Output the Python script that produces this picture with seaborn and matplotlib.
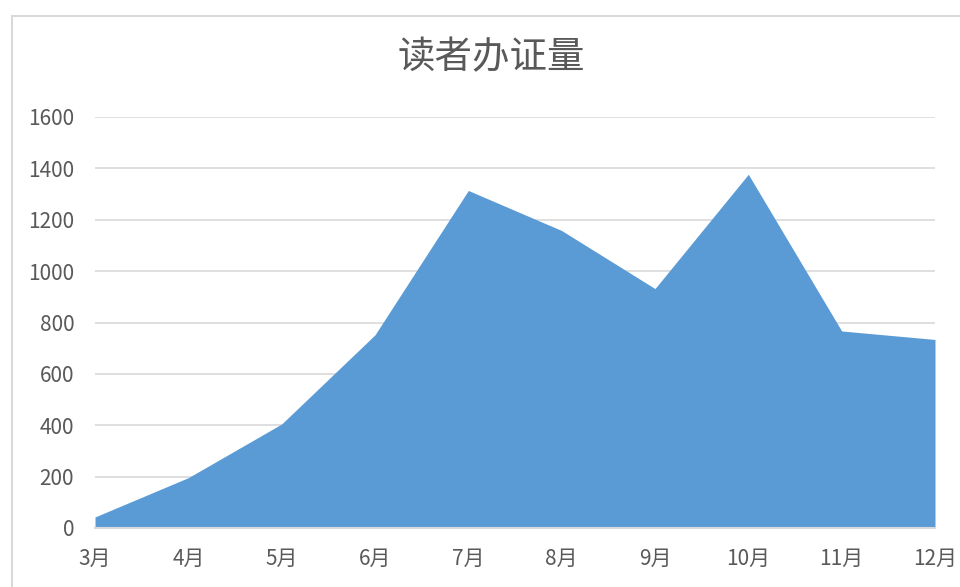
import matplotlib
matplotlib.use('Agg')
import matplotlib.pyplot as plt
import seaborn as sns
import pandas as pd
from matplotlib.patches import Rectangle

# 数据
months = ['3月', '4月', '5月', '6月', '7月', '8月', '9月', '10月', '11月', '12月']
counts = [43, 196, 405, 752, 1314, 1158, 932, 1377, 767, 734]

title = '读者办证量'
y_ticks = [0, 200, 400, 600, 800, 1000, 1200, 1400, 1600]


def main():
    sns.set_style('white')
    plt.rcParams['font.family'] = ['Noto Sans CJK SC', 'DejaVu Sans']

    df = pd.DataFrame({'month': months, 'count': counts})
    df['pos'] = range(len(df))

    fig = plt.figure(figsize=(9.6, 5.87), dpi=100)
    # 外框
    fig.patches.append(Rectangle((12 / 960, -0.05), 1.1, 1 - 16 / 587 + 0.05,
                                 transform=fig.transFigure, fill=False,
                                 edgecolor='#D9D9D9', linewidth=1.5))
    ax = fig.add_axes([95 / 960, 1 - 528 / 587, 840 / 960, 411 / 587])

    sns.lineplot(data=df, x='pos', y='count', ax=ax, color='#5B9BD5', linewidth=0)
    ax.fill_between(df['pos'], df['count'], color='#5B9BD5', linewidth=0, zorder=2)

    ax.set_xlim(0, len(months) - 1)
    ax.set_ylim(0, 1600)
    ax.set_yticks(y_ticks)
    ax.set_xticks(df['pos'])
    ax.set_xticklabels(months)
    ax.grid(axis='y', color='#D9D9D9', linewidth=1.2, zorder=0)
    ax.set_axisbelow(True)
    for s in ['top', 'right', 'left']:
        ax.spines[s].set_visible(False)
    ax.spines['bottom'].set_color('#D9D9D9')
    ax.spines['bottom'].set_linewidth(1.5)
    ax.spines['bottom'].set_zorder(3)
    ax.tick_params(axis='both', length=0, labelsize=15, colors='#595959')
    ax.tick_params(axis='y', pad=15)
    ax.tick_params(axis='x', pad=14)
    ax.set_xlabel('')
    ax.set_ylabel('')

    fig.text(491 / 960, 1 - 58 / 587, title, ha='center', va='center',
             fontsize=27, color='#595959', fontweight=200)

    fig.savefig('out.png', dpi=100)


if __name__ == '__main__':
    main()
